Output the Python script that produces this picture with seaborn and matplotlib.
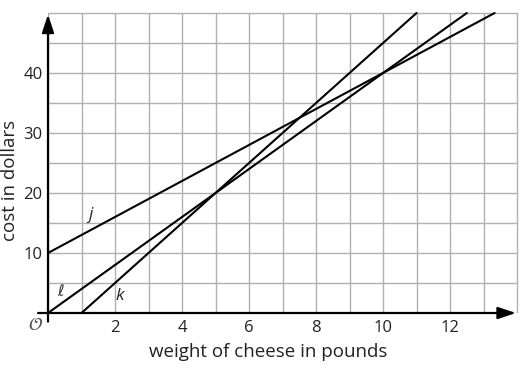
import matplotlib
matplotlib.use("Agg")
import matplotlib.pyplot as plt
import seaborn as sns
import pandas as pd

# Data
line_names = ["j", "ℓ", "k"]
j_x = [0, 13.33]
j_y = [10, 50]
l_x = [0, 12.5]
l_y = [0, 50]
k_x = [1, 11]
k_y = [0, 50]
x_ticks = [2, 4, 6, 8, 10, 12]
y_ticks = [10, 20, 30, 40]
x_label = "weight of cheese in pounds"
y_label = "cost in dollars"

sns.set_theme(style="white")
plt.rcParams['font.family'] = ['Open Sans', 'DejaVu Sans']

df = pd.concat([
    pd.DataFrame({"x": j_x, "y": j_y, "line": "j"}),
    pd.DataFrame({"x": l_x, "y": l_y, "line": "ℓ"}),
    pd.DataFrame({"x": k_x, "y": k_y, "line": "k"}),
])

W, H = 525, 368
fig = plt.figure(figsize=(W/100, H/100), dpi=100)
x0, y0 = 48, 313
ax = fig.add_axes([x0/W, 1-y0/H, (520.4-x0)/W, (y0-10)/H])

# grid
for gx in range(0, 15):
    ax.plot([gx, gx], [0, 50], color="#b0b0b0", lw=1.0, zorder=1)
for gy in range(0, 55, 5):
    ax.plot([0, 14], [gy, gy], color="#b0b0b0", lw=1.0, zorder=1)

sns.lineplot(data=df, x="x", y="y", units="line", estimator=None,
             color="black", lw=1.5, ax=ax, zorder=3, sort=False)

ax.set_xlim(0, 14.1)
ax.set_ylim(0, 50.5)
for s in ax.spines.values():
    s.set_visible(False)

# axes arrows
ax.annotate("", xy=(14.05, 0), xytext=(-0.38, 0), annotation_clip=False,
            arrowprops=dict(arrowstyle="-|>,head_length=0.9,head_width=0.3", color="black", lw=1.6), zorder=4)
ax.annotate("", xy=(0, 50.2), xytext=(0, -1.9), annotation_clip=False,
            arrowprops=dict(arrowstyle="-|>,head_length=0.9,head_width=0.3", color="black", lw=1.6), zorder=4)

ax.set_xticks(x_ticks)
ax.set_yticks(y_ticks)
ax.set_xticklabels([str(t) for t in x_ticks])
ax.set_yticklabels([str(t) for t in y_ticks])
ax.tick_params(axis="x", length=0, labelsize=12, colors="#222222", pad=5)
ax.tick_params(axis="y", length=0, labelsize=12, colors="#222222", pad=4)
ax.set_xlabel(x_label, fontsize=13.5, color="#222222")
ax.xaxis.set_label_coords((268 - x0) / (520.4 - x0), -(352 - y0) / (y0 - 10), transform=ax.transAxes)
ax.xaxis.label.set_va("center")
ax.set_ylabel("")
fig.text(1/W, 1-180/H, y_label, rotation=90, fontsize=13.5, color="#222222",
         ha="left", va="center")

ax.text(1.28, 16.3, "j", fontsize=12.5, style="italic", ha="center", va="center")
ax.text(0.36, 3.6, "ℓ", fontsize=11.5, ha="center", va="center", family=['DejaVu Sans'], color="#333333")
ax.text(2.15, 2.8, "k", fontsize=12.5, style="italic", ha="center", va="center")
ax.text(-0.36, -2.0, r"$\mathcal{O}$", fontsize=13, ha="center", va="center", color="#555555")

fig.savefig("out.png", dpi=100)
